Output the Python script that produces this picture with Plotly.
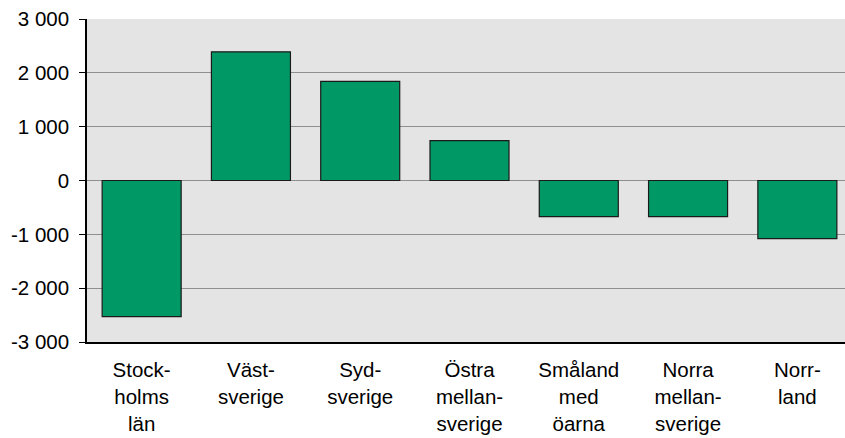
import plotly.graph_objects as go

categories = ["Stock-<br>holms<br>län", "Väst-<br>sverige", "Syd-<br>sverige", "Östra<br>mellan-<br>sverige",
              "Småland<br>med<br>öarna", "Norra<br>mellan-<br>sverige", "Norr-<br>land"]
values = [-2530, 2390, 1840, 740, -670, -670, -1080]
tick_vals = [-3000, -2000, -1000, 0, 1000, 2000, 3000]
tick_text = ["-3 000", "-2 000", "-1 000", "0", "1 000", "2 000", "3 000"]

fig = go.Figure(go.Bar(
    x=categories, y=values,
    marker=dict(color="#009966", line=dict(color="#1a1a1a", width=1.2)),
))
fig.update_layout(
    width=852, height=438,
    margin=dict(l=87, r=0, t=19, b=96),
    paper_bgcolor="white", plot_bgcolor="#e4e4e4",
    bargap=0.277, showlegend=False,
    font=dict(family="Liberation Sans, Arial", size=20.5, color="black"),
)
fig.update_yaxes(range=[-3000, 3000], tickvals=tick_vals, ticktext=tick_text,
                 showgrid=True, gridcolor="#8f8f8f", gridwidth=1.3,
                 zeroline=False, showline=True, linecolor="black", linewidth=1.5,
                 ticks="outside", ticklen=6, tickcolor="black", ticklabelstandoff=6)
fig.update_xaxes(showline=True, linecolor="black", linewidth=1.5, ticks="",
                 showgrid=False, ticklabelstandoff=9)
fig.write_html("out.html", config={"displayModeBar": False},
               post_script="document.body.style.margin='0';document.body.style.overflow='hidden';")
